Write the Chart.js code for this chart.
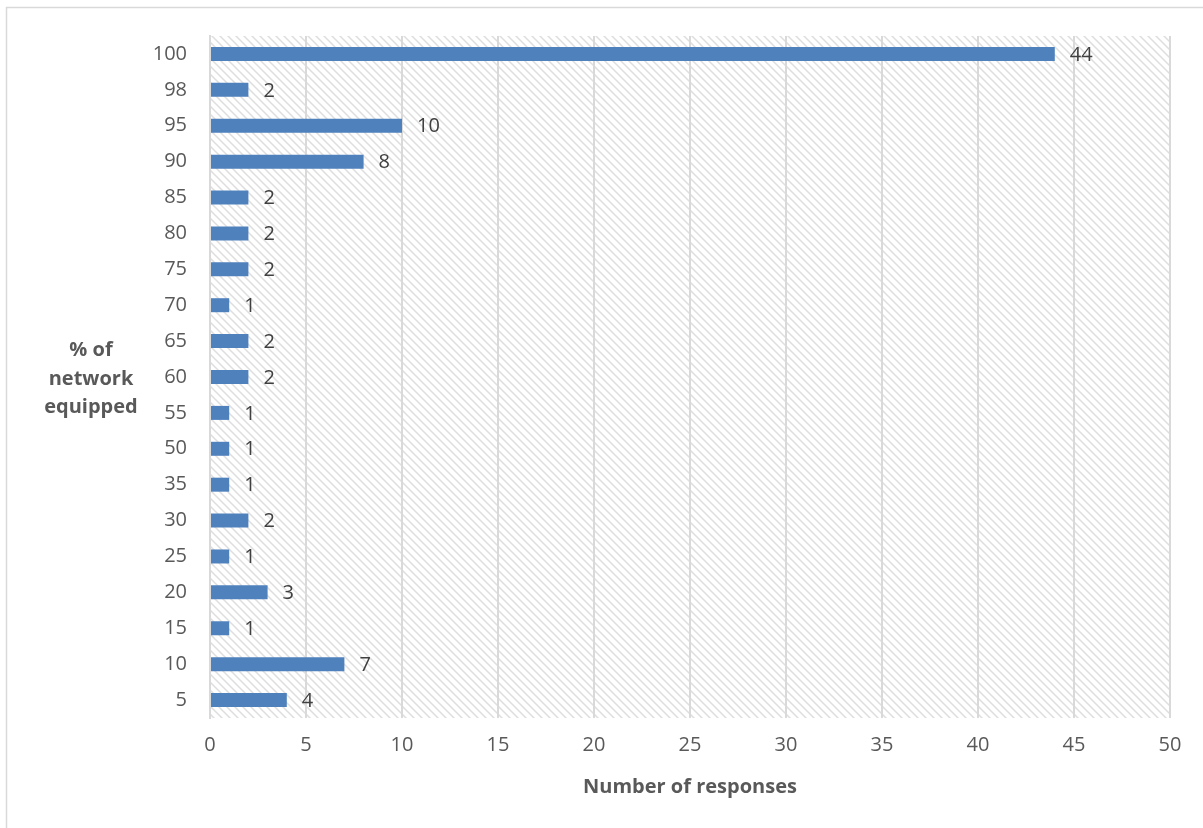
<!DOCTYPE html>
<html>
<head>
<meta charset="utf-8">
<script src="https://cdn.jsdelivr.net/npm/chart.js@4/dist/chart.umd.min.js"></script>
<style>
  html, body { margin: 0; padding: 0; background: #ffffff; }
  #wrap { width: 1203px; height: 828px; }
</style>
</head>
<body>
<div id="wrap"><canvas id="chart" width="1203" height="828"></canvas></div>
<script>
// Share of network equipped (%), listed top to bottom as shown
const categories = ['100', '98', '95', '90', '85', '80', '75', '70', '65', '60', '55', '50', '35', '30', '25', '20', '15', '10', '5'];
// Number of responses for each share
const responses = [44, 2, 10, 8, 2, 2, 2, 1, 2, 2, 1, 1, 1, 2, 1, 3, 1, 7, 4];
// Horizontal axis range and step
const xMin = 0;
const xMax = 50;
const xStep = 5;

const yTitleLines = ['% of', 'network', 'equipped'];
const xTitle = 'Number of responses';

const FONT = "'Open Sans', 'Liberation Sans', sans-serif";

// Diagonal hatch for the plot background
function makeHatch() {
  const c = document.createElement('canvas');
  c.width = 8; c.height = 8;
  const g = c.getContext('2d');
  g.fillStyle = '#ffffff';
  g.fillRect(0, 0, 8, 8);
  g.strokeStyle = '#dedede';
  g.lineWidth = 1.5;
  g.beginPath();
  g.moveTo(-2, -2); g.lineTo(10, 10);
  g.moveTo(-10, -2); g.lineTo(2, 10);
  g.moveTo(6, -2); g.lineTo(18, 10);
  g.stroke();
  return c;
}

const framePlugin = {
  id: 'frame',
  beforeDraw(chart) {
    const ctx = chart.ctx;
    const a = chart.chartArea;
    ctx.save();
    ctx.fillStyle = '#ffffff';
    ctx.fillRect(0, 0, chart.width, chart.height);
    // outer frame
    ctx.strokeStyle = '#d9d9d9';
    ctx.lineWidth = 1.5;
    ctx.strokeRect(6.5, 7.5, chart.width + 20, chart.height + 20);
    // hatched plot area
    ctx.fillStyle = ctx.createPattern(makeHatch(), 'repeat');
    ctx.fillRect(a.left, a.top, a.right - a.left, a.bottom - a.top);
    ctx.restore();
  },
  afterDraw(chart) {
    const ctx = chart.ctx;
    ctx.save();
    ctx.fillStyle = '#595959';
    ctx.font = 'bold 20px ' + FONT;
    ctx.textAlign = 'center';
    ctx.textBaseline = 'middle';
    const cy = (chart.chartArea.top + chart.chartArea.bottom) / 2 + 2;
    const lh = 28.5;
    yTitleLines.forEach((t, i) => {
      ctx.fillText(t, 91, cy + (i - (yTitleLines.length - 1) / 2) * lh);
    });
    ctx.fillText(xTitle, (chart.chartArea.left + chart.chartArea.right) / 2, 787);
    ctx.restore();
  }
};

const valueLabels = {
  id: 'valueLabels',
  afterDatasetsDraw(chart) {
    const ctx = chart.ctx;
    const meta = chart.getDatasetMeta(0);
    ctx.save();
    ctx.fillStyle = '#404040';
    ctx.font = '20px ' + FONT;
    ctx.textAlign = 'left';
    ctx.textBaseline = 'middle';
    meta.data.forEach((bar, i) => {
      ctx.fillText(String(responses[i]), bar.x + 15, bar.y + 1);
    });
    ctx.restore();
  }
};

new Chart(document.getElementById('chart'), {
  type: 'bar',
  data: {
    labels: categories,
    datasets: [{
      data: responses,
      backgroundColor: '#4f81bd',
      borderWidth: 0,
      categoryPercentage: 1,
      barPercentage: 0.39
    }]
  },
  options: {
    indexAxis: 'y',
    responsive: false,
    animation: false,
    devicePixelRatio: 1,
    layout: { padding: { left: 0, right: 33, top: 36, bottom: 0 } },
    plugins: {
      legend: { display: false },
      tooltip: { enabled: false }
    },
    scales: {
      x: {
        min: xMin,
        max: xMax,
        afterFit(scale) { scale.height = 110; },
        ticks: {
          stepSize: xStep,
          color: '#595959',
          font: { family: FONT, size: 20 },
          padding: 15
        },
        grid: {
          color: '#d9d9d9',
          lineWidth: 2,
          drawTicks: false
        },
        border: { display: false }
      },
      y: {
        afterFit(scale) { scale.width = 210; },
        ticks: {
          color: '#595959',
          font: { family: FONT, size: 20 },
          padding: 23
        },
        grid: { display: false, drawTicks: false },
        border: { display: true, color: '#d9d9d9', width: 2 }
      }
    }
  },
  plugins: [framePlugin, valueLabels]
});
</script>
</body>
</html>
